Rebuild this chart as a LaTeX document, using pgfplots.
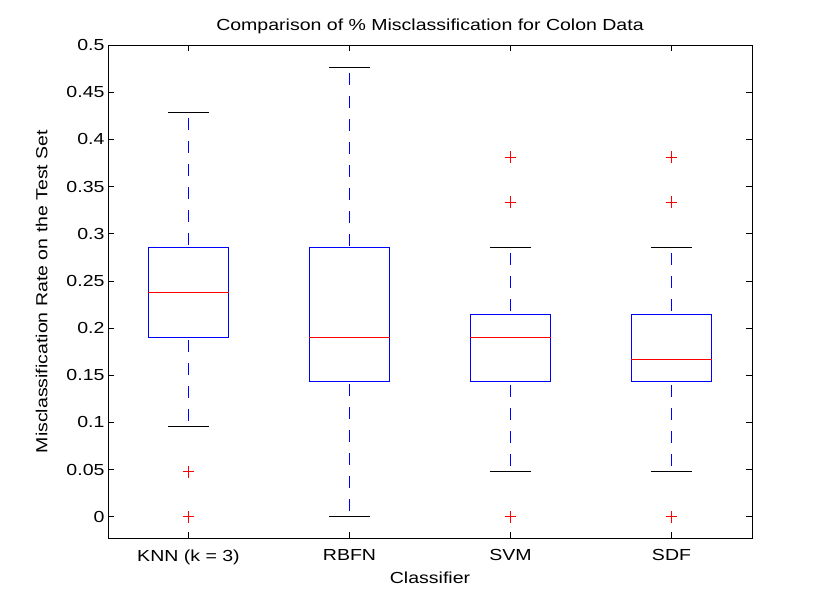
\documentclass[border=0pt]{standalone}
\usepackage{fontspec}
\setmainfont{Liberation Sans}[FakeStretch=1.22]
\usepackage{pgfplots}
\pgfplotsset{compat=1.18}
\definecolor{mblue}{rgb}{0,0,1}
\definecolor{mred}{rgb}{1,0,0}
\begin{document}
\begin{tikzpicture}
\begin{axis}[
  name=ax,
  scale only axis,
  width=644pt, height=493pt,
  xmin=0.5, xmax=4.5,
  ymin=-0.0225, ymax=0.5,
  xtick={1,2,3,4},
  xticklabels={KNN (k = 3),RBFN,SVM,SDF},
  ytick={0,0.05,...,0.5},
  yticklabels={0,0.05,0.1,0.15,0.2,0.25,0.3,0.35,0.4,0.45,0.5},
  tick align=inside,
  major tick length=6pt,
  xtick pos=both, ytick pos=both,
  tick style={black, line width=0.6pt},
  axis line style={black, line width=0.8pt},
  ticklabel style={font=\fontsize{16}{19}\selectfont},
  xticklabel style={yshift=-8pt},
  label style={font=\fontsize{16}{19}\selectfont},
  title style={font=\fontsize{16}{19}\selectfont, yshift=2pt},
  title={Comparison of \% Misclassification for Colon Data},
  xlabel={Classifier},
  ylabel={Misclassification Rate on the Test Set},
  xlabel style={yshift=-1pt},
  ylabel style={yshift=12pt},
  unbounded coords=jump,
]
% whiskers (from whisker end to quartile)
\addplot[color=mblue, no markers, line width=0.9pt, dash pattern=on 12pt off 11pt, dash phase=17pt]
  coordinates {
  (1,0.4286) (1,0.2857) (nan,nan) (1,0.0952) (1,0.1905) (nan,nan)
  (2,0.4762) (2,0.2857) (nan,nan) (2,0) (2,0.1429) (nan,nan)
  (3,0.2857) (3,0.2143) (nan,nan) (3,0.0476) (3,0.1429) (nan,nan)
  (4,0.2857) (4,0.2143) (nan,nan) (4,0.0476) (4,0.1429)
  };
% whisker caps
\addplot[color=black, no markers, solid, line width=0.9pt]
  coordinates {
  (0.875,0.4286) (1.125,0.4286) (nan,nan) (0.875,0.0952) (1.125,0.0952) (nan,nan)
  (1.875,0.4762) (2.125,0.4762) (nan,nan) (1.875,0) (2.125,0) (nan,nan)
  (2.875,0.2857) (3.125,0.2857) (nan,nan) (2.875,0.0476) (3.125,0.0476) (nan,nan)
  (3.875,0.2857) (4.125,0.2857) (nan,nan) (3.875,0.0476) (4.125,0.0476)
  };
% boxes (lower to upper quartile)
\addplot[color=mblue, no markers, solid, line width=0.9pt]
  coordinates {
  (0.75,0.1905) (1.25,0.1905) (1.25,0.2857) (0.75,0.2857) (0.75,0.1905) (nan,nan)
  (1.75,0.1429) (2.25,0.1429) (2.25,0.2857) (1.75,0.2857) (1.75,0.1429) (nan,nan)
  (2.75,0.1429) (3.25,0.1429) (3.25,0.2143) (2.75,0.2143) (2.75,0.1429) (nan,nan)
  (3.75,0.1429) (4.25,0.1429) (4.25,0.2143) (3.75,0.2143) (3.75,0.1429)
  };
% medians
\addplot[color=mred, no markers, solid, line width=0.9pt]
  coordinates {
  (0.75,0.2381) (1.25,0.2381) (nan,nan)
  (1.75,0.1905) (2.25,0.1905) (nan,nan)
  (2.75,0.1905) (3.25,0.1905) (nan,nan)
  (3.75,0.1667) (4.25,0.1667)
  };
% outliers
\addplot[only marks, mark=+, mark size=5.8pt, color=mred, mark options={solid, line width=0.8pt}]
  coordinates {
  (1,0.0476) (1,0)
  (3,0) (3,0.3333) (3,0.3810)
  (4,0) (4,0.3333) (4,0.3810)
  };
\end{axis}
\path (ax.south west) ++(-108pt,-68pt) coordinate (bl);
\path (ax.south west) ++(722pt,538pt) coordinate (tr);
\pgfresetboundingbox
\useasboundingbox (bl) rectangle (tr);
\end{tikzpicture}
\end{document}
